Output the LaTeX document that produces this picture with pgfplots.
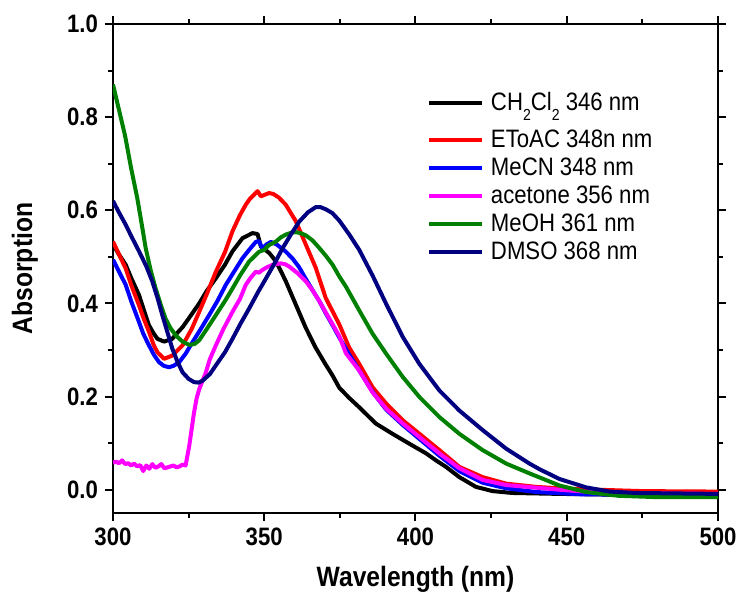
\documentclass[border=0pt]{standalone}
\usepackage{pgfplots}
\pgfplotsset{compat=1.18}
\usepackage{fontspec}
\setmainfont{Liberation Sans}[FakeStretch=0.88]
\definecolor{cNavy}{RGB}{0,0,128}
\definecolor{cGreen}{RGB}{0,128,0}
\definecolor{cMag}{RGB}{255,0,255}
\definecolor{cRed}{RGB}{255,0,0}
\definecolor{cBlue}{RGB}{0,0,255}
\begin{document}
\begin{tikzpicture}
\begin{axis}[
  scale only axis, width=302.5pt, height=244.5pt,
  xmin=300, xmax=500, ymin=-0.05, ymax=1.0,
  xtick={300,350,...,500}, minor x tick num=1,
  ytick={0,0.2,0.4,0.6,0.8,1.0}, minor y tick num=1,
  tick align=outside, major tick length=4pt, minor tick length=2.5pt,
  every tick/.style={line width=1pt, black},
  axis line style={line width=1.2pt},
  /pgf/number format/assume math mode=true,
  yticklabel style={/pgf/number format/.cd, fixed, fixed zerofill, precision=1},
  ticklabel style={font=\fontsize{12.6}{13}\selectfont\bfseries},
  every axis y label/.style={at={(axis description cs:-0.1455,0.5)}, anchor=center, rotate=90, font=\fontsize{14}{15}\selectfont\bfseries},
  every axis x label/.style={at={(axis description cs:0.5,-0.135)}, anchor=center, font=\fontsize{14}{15}\selectfont\bfseries},
  xlabel={Wavelength (nm)}, ylabel={Absorption},
  legend cell align=left,
  legend image code/.code={\draw[#1, line width=2pt] (0pt,0pt) -- (26.5pt,0pt);},
  legend style={at={(axis description cs:0.519,0.876)}, anchor=north west, draw=none, fill=none,
    inner sep=0pt, outer sep=0pt, row sep=3.2pt, column sep=3.5pt,
    font=\fontsize{12.6}{14}\selectfont,
    nodes={inner sep=0pt, text height=9.2pt, text depth=1.7pt}},
  every axis plot/.append style={line width=2pt, line join=round},
]
\coordinate (sw) at (rel axis cs:0,0);
\coordinate (ne) at (rel axis cs:1,1);
% CH2Cl2
\addplot[black] coordinates {
(300,0.527)(302,0.505)(304.2,0.483)(306,0.455)(308.6,0.418)(310,0.39)(311.9,0.353)(313.5,0.335)(314.7,0.324)(316.9,0.318)(319.6,0.324)(321,0.335)(323,0.349)(325.5,0.372)(328.5,0.4)(331,0.427)(334,0.454)(337,0.483)(339.5,0.512)(342.8,0.54)(346.1,0.551)(347.8,0.549)(348.9,0.522)(351.7,0.508)(353.9,0.49)(355,0.476)(357.1,0.448)(360.4,0.398)(363.7,0.348)(367,0.305)(370,0.272)(372.6,0.245)(374.8,0.219)(378.1,0.197)(381.4,0.177)(386.9,0.142)(392.4,0.120)(397.9,0.099)(403.5,0.078)(407,0.062)(410.1,0.049)(414.5,0.027)(420,0.006)(425.5,-0.003)(432,-0.007)(447.6,-0.009)(470,-0.011)(500,-0.012)};
\addlegendentry[text height=13.15pt, text depth=5.65pt]{CH\raisebox{-5pt}{\fontsize{8}{8}\selectfont 2}Cl\raisebox{-5pt}{\fontsize{8}{8}\selectfont 2} 346 nm}
% EtOAc
\addplot[cRed] coordinates {
(300,0.533)(302,0.505)(304.2,0.475)(306,0.44)(308.6,0.396)(310,0.37)(311.9,0.339)(313.5,0.31)(314.7,0.295)(316.9,0.281)(319.6,0.288)(323,0.31)(326,0.345)(328.5,0.382)(331,0.42)(334,0.468)(337,0.51)(339.5,0.555)(342,0.59)(343.9,0.612)(345.3,0.625)(347.8,0.641)(348.9,0.63)(351.6,0.637)(353,0.635)(354.9,0.627)(357.1,0.612)(360.4,0.577)(363.7,0.527)(367,0.477)(370.3,0.412)(374.8,0.355)(378.1,0.305)(381.4,0.270)(385.8,0.220)(390.3,0.185)(395.8,0.149)(401.3,0.120)(407.9,0.085)(414.5,0.049)(422.2,0.027)(430,0.013)(440,0.006)(447.6,0.003)(460,0.0)(475,-0.003)(500,-0.004)};
\addlegendentry{EToAC 348n nm}
% MeCN
\addplot[cBlue] coordinates {
(300,0.494)(302,0.468)(304.2,0.44)(306,0.405)(308.6,0.36)(310,0.335)(311.9,0.31)(313.5,0.29)(315.2,0.274)(316.8,0.266)(318.5,0.263)(320,0.266)(321.9,0.274)(324,0.292)(326.3,0.317)(329,0.345)(331.8,0.375)(334.5,0.405)(337.3,0.44)(340,0.468)(342.8,0.497)(345,0.515)(347.2,0.532)(348.2,0.534)(349.4,0.518)(350.8,0.527)(352.2,0.532)(354,0.527)(357,0.512)(359.4,0.496)(361.5,0.478)(363.8,0.452)(366,0.428)(368.2,0.405)(370.4,0.378)(372.6,0.353)(374.8,0.327)(378.1,0.29)(381.4,0.256)(385.8,0.21)(390.3,0.172)(395.8,0.139)(401.3,0.109)(407.9,0.073)(414.5,0.04)(422.2,0.015)(430,0.003)(440,-0.005)(455,-0.010)(500,-0.012)};
\addlegendentry{MeCN 348 nm}
% acetone
\addplot[cMag] coordinates {
(300,0.058)(301,0.06)(302,0.057)(303,0.063)(304,0.055)(305,0.057)(306,0.052)(307,0.056)(308,0.05)(309,0.053)(310,0.04)(311,0.052)(312,0.045)(313,0.055)(314,0.047)(315,0.05)(316,0.055)(317,0.046)(318,0.048)(319,0.05)(320,0.052)(321,0.048)(322,0.05)(323,0.054)(324,0.052)(325.2,0.094)(326,0.13)(326.8,0.166)(327.6,0.195)(328.5,0.216)(330.7,0.252)(332,0.28)(334,0.31)(336.5,0.345)(339.5,0.382)(342,0.41)(343.9,0.44)(345.5,0.455)(347.2,0.468)(348.3,0.466)(349.4,0.472)(351,0.478)(352.8,0.483)(355.5,0.486)(357,0.484)(358.3,0.479)(361,0.465)(363.8,0.447)(366,0.428)(368.2,0.405)(370.4,0.38)(372.6,0.355)(374.8,0.33)(377,0.293)(381.4,0.256)(385.8,0.209)(390.3,0.174)(395.8,0.142)(401.3,0.113)(407.9,0.078)(414.5,0.046)(422.2,0.021)(430,0.01)(447.6,0.0)(460,-0.006)(480,-0.008)(500,-0.009)};
\addlegendentry{acetone 356 nm}
% MeOH
\addplot[cGreen] coordinates {
(300,0.87)(302,0.815)(304,0.76)(306,0.69)(308,0.627)(309.5,0.57)(310.8,0.519)(312.5,0.47)(314.1,0.432)(315.8,0.397)(317.4,0.367)(319,0.347)(320.8,0.331)(323,0.318)(325.2,0.311)(327,0.313)(328.5,0.321)(331,0.345)(334,0.375)(337,0.405)(339.5,0.432)(342,0.46)(345,0.49)(348.3,0.511)(350,0.515)(351.5,0.525)(353.9,0.533)(355.5,0.542)(357.2,0.548)(359,0.552)(360.5,0.553)(362,0.551)(363.8,0.546)(366,0.535)(368.2,0.519)(370.4,0.502)(372.6,0.483)(374.8,0.458)(377,0.436)(381.4,0.385)(385.8,0.335)(390.3,0.292)(395.8,0.242)(401.3,0.199)(407.9,0.156)(414.5,0.120)(422.2,0.085)(430,0.056)(437.7,0.035)(447.6,0.009)(456.4,-0.005)(467,-0.013)(480,-0.016)(500,-0.016)};
\addlegendentry{MeOH 361 nm}
% DMSO
\addplot[cNavy] coordinates {
(300,0.62)(302,0.595)(304.2,0.569)(306,0.545)(308.6,0.512)(311,0.48)(313,0.447)(314.8,0.41)(316.3,0.375)(318,0.338)(319.6,0.303)(321.3,0.275)(323,0.252)(325,0.238)(326.8,0.231)(328.3,0.23)(329.6,0.234)(332,0.248)(334,0.267)(337,0.295)(339.5,0.324)(342.2,0.357)(345,0.389)(348,0.425)(350.6,0.454)(353.5,0.487)(356.1,0.519)(359,0.55)(361.6,0.576)(364.5,0.596)(367.1,0.607)(368.5,0.607)(370.4,0.602)(372.5,0.594)(374.8,0.578)(378.1,0.548)(381.4,0.515)(385.8,0.46)(390.3,0.399)(395.8,0.328)(401.3,0.270)(407.9,0.213)(414.5,0.170)(422.2,0.128)(430,0.088)(437.7,0.056)(441,0.044)(447.6,0.023)(456.4,0.005)(464.2,-0.004)(473,-0.007)(500,-0.009)};
\addlegendentry{DMSO 368 nm}
\end{axis}
\pgfresetboundingbox
\path ([shift={(-56.5pt,-40.5pt)}]sw) rectangle ([shift={(11pt,12pt)}]ne);
\end{tikzpicture}
\end{document}
